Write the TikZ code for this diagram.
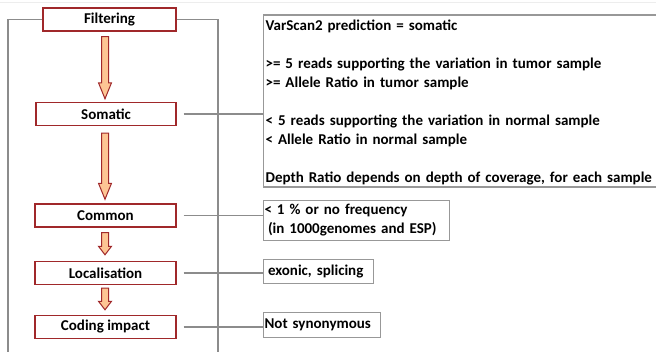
\documentclass[tikz,border=0pt]{standalone}
\usepackage{fontspec}
\setmainfont{Carlito}
\usetikzlibrary{calc}

\definecolor{boxred}{HTML}{A0282A}
\definecolor{peach}{HTML}{FDC594}
\definecolor{linegrey}{HTML}{8C8C8C}
\definecolor{infogrey}{HTML}{989898}

% Broad block arrow between two points, #3 = head length (pt)
\newcommand\fatarrow[3]{%
  \draw[fatarrowstyle] let \p1=#1, \p2=#2 in
    (\x1-3.5pt,\y1) -- (\x1-3.5pt,\y2+#3pt) -- (\x1-6.5pt,\y2+#3pt) --
    (\x1,\y2) -- (\x1+6.5pt,\y2+#3pt) -- (\x1+3.5pt,\y2+#3pt) --
    (\x1+3.5pt,\y1) -- cycle;}

\tikzset{
  txt/.style={font=\fontsize{15pt}{19pt}\selectfont\bfseries},
  stepbox/.style={txt, draw=boxred, fill=white, line width=1.4pt,
    minimum height=23pt, inner sep=0pt},
  infobox/.style={txt, draw=infogrey, fill=white, line width=1.1pt,
    anchor=north west, align=left, inner ysep=0pt},
  greyline/.style={draw=linegrey, line width=1.2pt},
  fatarrowstyle/.style={draw=boxred, fill=peach, line width=1pt, line join=miter},
}

\begin{document}
\begin{tikzpicture}[x=1pt, y=-1pt]
\useasboundingbox (0,0) rectangle (656,352);

% faint rule along the top
\coordinate (tl) at (0,2.3);
\coordinate (tr) at (656,2.3);
\draw[black!7, line width=0.8pt] (tl) -- (tr);

% pipeline steps
\coordinate (axis) at (105,0);
\node[stepbox, minimum width=133pt] (filt) at (109.5,19.5)  {Filtering};
\node[stepbox, minimum width=140pt] (som)  at (106,114)     {Somatic};
\node[stepbox, minimum width=141pt] (com)  at (105.5,215.5) {Common};
\node[stepbox, minimum width=141pt] (loc)  at (105.5,273)   {Localisation};
\node[stepbox, minimum width=141pt] (cod)  at (105.5,327)   {Coding impact};

% bracket lines running down the page
\coordinate (lb) at (8,354);
\coordinate (rb) at (218,354);
\draw[greyline] (filt.west) -| (lb);
\draw[greyline] (filt.east) -| (rb);

% criteria boxes
\node[infobox, minimum width=430pt, minimum height=172pt, text width=425pt, inner xsep=0.8pt]
  (big) at (262.5,14.5)
  {\strut VarScan2 prediction = somatic\\[19pt]
   >= 5 reads supporting the variation in tumor sample\\
   >= Allele Ratio in tumor sample\\[19pt]
   < 5 reads supporting the variation in normal sample\\
   < Allele Ratio in normal sample\\[19pt]
   Depth Ratio depends on depth of coverage, for each sample};
\node[infobox, minimum width=186.5pt, minimum height=40pt, text width=184pt, inner xsep=0.8pt]
  (freq) at (262.7,200)
  {\raisebox{-2pt}{< 1 \% or no frequency}\\\hspace*{3.5pt}\raisebox{-2pt}{(in 1000genomes and ESP)}};
\node[infobox, minimum width=110pt, minimum height=24pt, text width=101pt, inner xsep=4.5pt]
  (exo) at (263,259) {exonic, splicing};
\node[infobox, minimum width=117pt, minimum height=25pt, text width=115pt, inner xsep=0.8pt]
  (syn) at (263,312) {Not synonymous};

% links from steps to their criteria
\draw[greyline] ([xshift=7pt]som.east) -- (som.east -| big.west);
\draw[greyline] ([xshift=7pt]com.east) -- (com.east -| freq.west);
\draw[greyline] ([xshift=7pt]loc.east) -- (loc.east -| exo.west);
\draw[greyline] ([xshift=7pt]cod.east) -- (cod.east -| syn.west);

% block arrows between steps
\fatarrow{($(filt.south-|axis)+(0,5)$)}{($(som.north-|axis)+(0,-3)$)}{16}
\fatarrow{($(som.south-|axis)+(0,7)$)}{($(com.north-|axis)+(0,-4)$)}{16}
\fatarrow{($(com.south-|axis)+(0,5)$)}{($(loc.north-|axis)+(0,-6)$)}{8.5}
\fatarrow{($(loc.south-|axis)+(0,3)$)}{($(cod.north-|axis)+(0,-5)$)}{8.5}
\end{tikzpicture}
\end{document}
